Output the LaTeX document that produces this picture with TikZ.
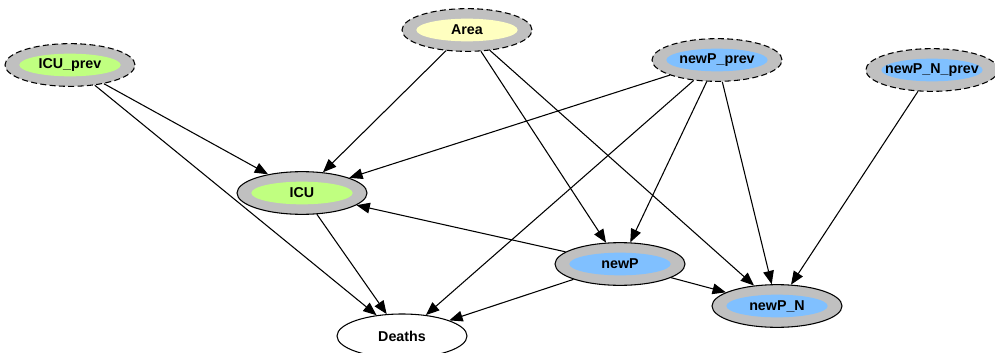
\documentclass[tikz,border=0pt]{standalone}
\usepackage{fontspec}
\setmainfont{Liberation Sans}
\usetikzlibrary{arrows.meta,shapes.geometric}
\definecolor{gGreen}{HTML}{C0FF80}
\definecolor{gYellow}{HTML}{FFFFC0}
\definecolor{gBlue}{HTML}{80C0FF}
\definecolor{gRing}{HTML}{C0C0C0}
\tikzset{
  bnnode/.style={ellipse, draw, line width=0.8pt, fill=gRing, minimum width=97.5pt,
    minimum height=32pt, inner sep=0pt,
    path picture={\fill[#1] (path picture bounding box.center) ellipse [x radius=38pt, y radius=8.5pt];}},
  prevnode/.style={bnnode=#1, dash pattern=on 4.5pt off 2.5pt},
  edge/.style={-{Triangle[length=10pt,width=8pt]}, line width=0.8pt}
}

\begin{document}
\begin{tikzpicture}[x=0.75pt,y=-0.75pt,font=\fontsize{10.7}{12}\selectfont\bfseries]
\useasboundingbox (0,0) rectangle (995,353);
% parents from the previous step
\node[prevnode=gGreen] (icuprev) at (70,65) {ICU\_prev};
\node[prevnode=gYellow] (area) at (467,30) {Area};
\node[prevnode=gBlue] (newpprev) at (717,60) {newP\_prev};
\node[prevnode=gBlue, minimum width=93pt] (newpnprev) at (932,70) {newP\_N\_prev};
% current step
\node[bnnode=gGreen] (icu) at (302,193) {ICU};
\node[bnnode=gBlue] (newp) at (620,264) {newP};
\node[bnnode=gBlue] (newpn) at (777,306) {newP\_N};
\node[ellipse, draw, line width=0.8pt, fill=white, minimum width=97.5pt, minimum height=33pt] (deaths) at (402,336) {Deaths};
% edges
\draw[edge] (icuprev) -- (icu);
\draw[edge] (icuprev) -- (deaths);
\draw[edge] (area) -- (icu);
\draw[edge] (area) -- (newp);
\draw[edge] (area) -- (newpn);
\draw[edge] (newpprev) -- (icu);
\draw[edge] (newpprev) -- (deaths);
\draw[edge] (newpprev) -- (newp);
\draw[edge] (newpprev) -- (newpn);
\draw[edge] (newpnprev) -- (newpn);
\draw[edge] (icu) -- (deaths);
\draw[edge] (newp) -- (icu);
\draw[edge] (newp) -- (deaths);
\draw[edge] (newp) -- (newpn);
\end{tikzpicture}
\end{document}
